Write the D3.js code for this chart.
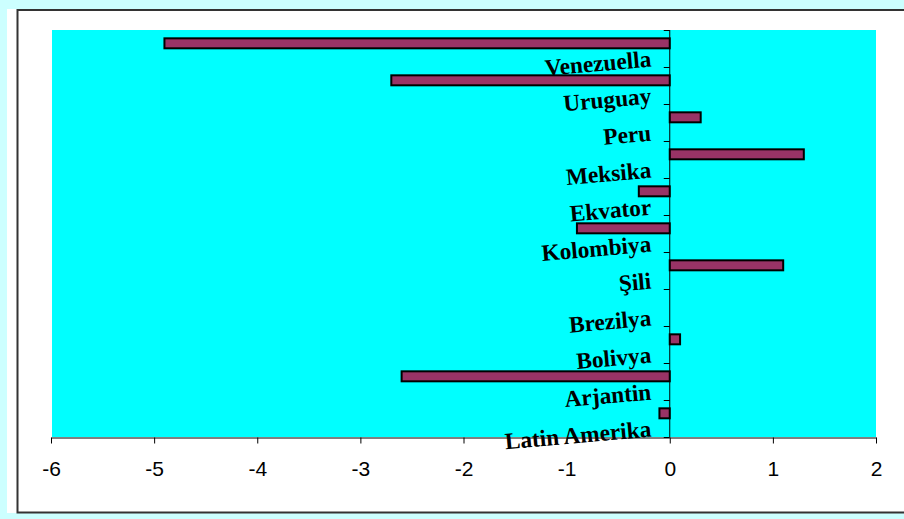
<!DOCTYPE html>
<html>
<head>
<meta charset="utf-8">
<script src="https://cdn.jsdelivr.net/npm/d3@7"></script>
<style>
  html, body { margin: 0; padding: 0; background: #ccffff; }
  svg { display: block; }
</style>
</head>
<body>
<svg id="chart" width="904" height="519"></svg>
<script>
// Categories listed top to bottom, as drawn
const categories = ["Venezuella", "Uruguay", "Peru", "Meksika", "Ekvator", "Kolombiya",
                    "Şili", "Brezilya", "Bolivya", "Arjantin", "Latin Amerika"];
const values = [-4.9, -2.7, 0.3, 1.3, -0.3, -0.9, 1.1, 0, 0.1, -2.6, -0.1];
const xTicks = [-6, -5, -4, -3, -2, -1, 0, 1, 2];

const svg = d3.select("#chart");

// Frame: white panel with a dark border
svg.append("rect").attr("x", 7).attr("y", 9).attr("width", 897).attr("height", 504).attr("fill", "#ffffff");
svg.append("rect").attr("x", 17.5).attr("y", 10).attr("width", 900).attr("height", 502.5)
  .attr("fill", "none").attr("stroke", "#333333").attr("stroke-width", 2);

const plot = { left: 51, right: 876, top: 30, bottom: 437 };

const x = d3.scaleLinear().domain([-6, 2]).range([plot.left, plot.right]);
const y = d3.scaleBand().domain(categories).range([plot.top, plot.bottom]).padding(0);

// Plot area background
svg.append("rect")
  .attr("x", plot.left + 1).attr("y", plot.top)
  .attr("width", plot.right - plot.left - 1).attr("height", plot.bottom - plot.top)
  .attr("fill", "#00ffff");

// Category labels, slightly tilted, right-aligned near the zero line
svg.append("g").selectAll("text")
  .data(categories)
  .join("text")
  .attr("transform", d => `translate(${x(0) - 18},${y(d) + y.bandwidth() / 2 + 18}) rotate(-5)`)
  .attr("text-anchor", "end")
  .attr("font-family", "'Liberation Serif', 'Times New Roman', serif")
  .attr("font-weight", "bold")
  .attr("font-size", 23.3)
  .attr("fill", "#000")
  .text(d => d);

// Bars
const bw = y.bandwidth();
svg.append("g").selectAll("rect")
  .data(categories.map((c, i) => ({ c, v: values[i] })).filter(d => d.v !== 0))
  .join("rect")
  .attr("x", d => x(Math.min(0, d.v)))
  .attr("width", d => Math.abs(x(d.v) - x(0)))
  .attr("y", d => y(d.c) + bw * 0.225)
  .attr("height", bw * 0.27)
  .attr("fill", "#993366")
  .attr("stroke", "#000")
  .attr("stroke-width", 2);

// Vertical category axis at zero with ticks on band boundaries
const yAxis = svg.append("g");
yAxis.append("line")
  .attr("x1", x(0)).attr("x2", x(0))
  .attr("y1", plot.top).attr("y2", plot.bottom)
  .attr("stroke", "#000").attr("stroke-width", 1);
const bounds = categories.map(c => y(c)).concat([plot.bottom]);
yAxis.selectAll("line.tick")
  .data(bounds)
  .join("line")
  .attr("class", "tick")
  .attr("x1", x(0) - 6).attr("x2", x(0))
  .attr("y1", d => Math.round(d) + 0.5).attr("y2", d => Math.round(d) + 0.5)
  .attr("stroke", "#000").attr("stroke-width", 1);

// Horizontal value axis
const xAxis = d3.axisBottom(x).tickValues(xTicks).tickSize(6).tickSizeOuter(0).tickPadding(18)
  .tickFormat(d3.format("d"));
const gx = svg.append("g").attr("transform", `translate(0,${plot.bottom + 0.5})`).call(xAxis);
gx.select(".domain").attr("stroke", "#000");
gx.selectAll(".tick line").attr("stroke", "#000");
gx.selectAll(".tick text")
  .attr("font-family", "'Liberation Sans', Arial, sans-serif")
  .attr("font-size", 21)
  .attr("fill", "#000")
  .text(d => d < 0 ? "-" + Math.abs(d) : String(d));
</script>
</body>
</html>
